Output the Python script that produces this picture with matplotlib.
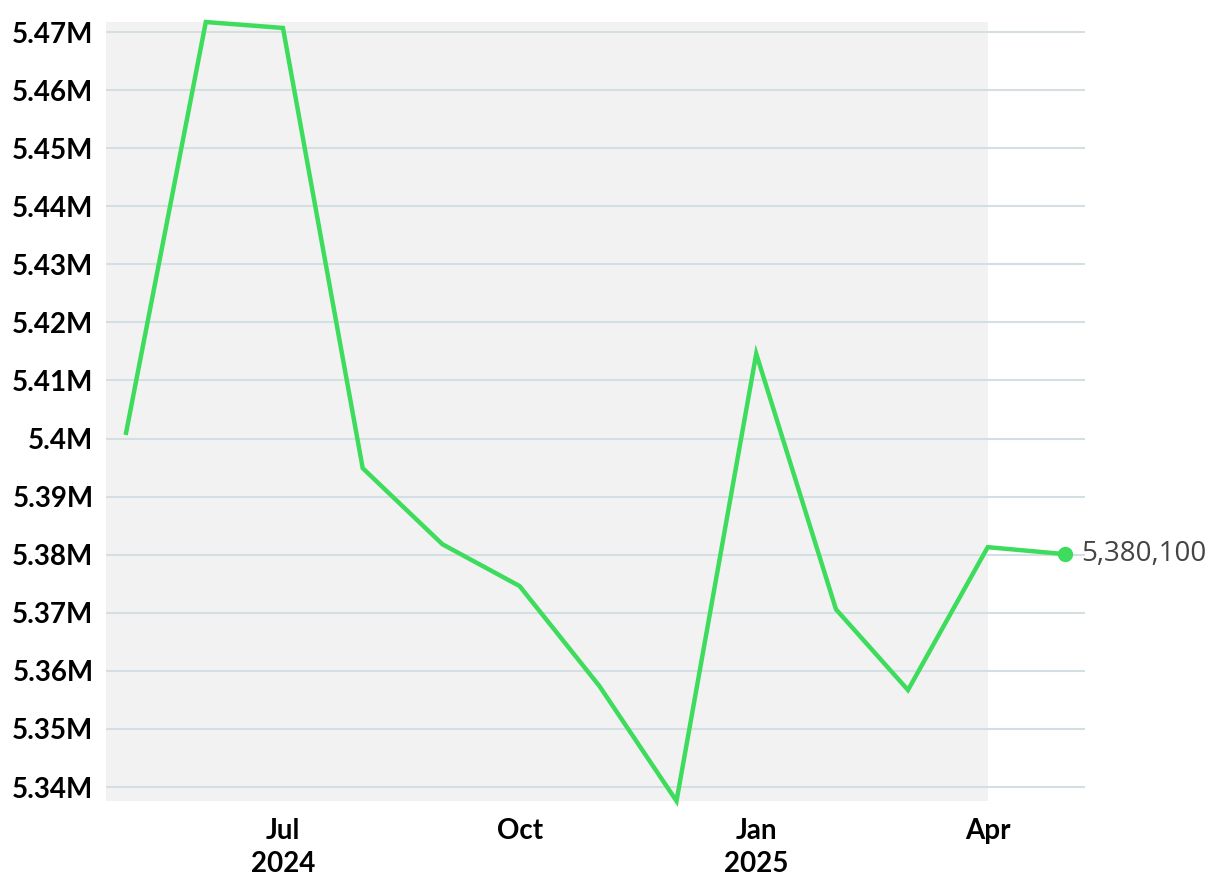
import matplotlib.pyplot as plt
import matplotlib.ticker as mticker
import pandas as pd

plt.rcParams['font.family'] = ['Lato', 'DejaVu Sans']

# Данные: ежемесячные значения
months = pd.date_range('2024-05-01', '2025-05-01', freq='MS')
values = [5401000, 5471720, 5470700, 5394900, 5381800, 5374600, 5357400,
          5337590, 5414600, 5370600, 5356700, 5381300, 5380100]
y_ticks = [5.34e6, 5.35e6, 5.36e6, 5.37e6, 5.38e6, 5.39e6, 5.40e6,
           5.41e6, 5.42e6, 5.43e6, 5.44e6, 5.45e6, 5.46e6, 5.47e6]
x_ticks = pd.to_datetime(['2024-07-01', '2024-10-01', '2025-01-01', '2025-04-01'])
x_tick_labels = ['Jul\n2024', 'Oct', 'Jan\n2025', 'Apr']
shade_end = pd.Timestamp('2025-04-01')

line_color = '#3ddc5c'
grid_color = '#d5dfe3'

fig = plt.figure(figsize=(12.2, 8.92), dpi=100)
ax = fig.add_axes([0.0869, 0.1020, 0.8024, 0.8733])

pad = pd.Timedelta(days=7.8)
x_left = months[0] - pad
x_right = months[-1] + pad
ax.set_xlim(x_left, x_right)
ax.set_ylim(min(values), max(values))

# Серый фон до апреля
ax.axvspan(x_left, shade_end, color='#f2f2f2', zorder=0, lw=0)

ax.plot(months, values, color=line_color, linewidth=3.2, zorder=3,
        solid_joinstyle='miter', clip_on=False)
ax.plot(months[-1], values[-1], 'o', color=line_color, markersize=10, zorder=4)
ax.annotate(f'{values[-1]:,}', (months[-1], values[-1]), xytext=(12, 0),
            textcoords='offset points', va='center', ha='left',
            fontsize=20, color='#444444', family=['Open Sans', 'DejaVu Sans'])

ax.set_yticks(y_ticks)
ax.yaxis.set_major_formatter(mticker.FuncFormatter(
    lambda v, p: f'{v / 1e6:.2f}'.rstrip('0').rstrip('.') + 'M'))
ax.set_xticks(x_ticks)
ax.set_xticklabels(x_tick_labels)

ax.grid(axis='y', color=grid_color, linewidth=1.5, zorder=1)
ax.grid(axis='x', visible=False)
ax.set_axisbelow(True)
for spine in ax.spines.values():
    spine.set_visible(False)

ax.tick_params(axis='both', length=0, labelsize=20)
ax.tick_params(axis='y', pad=9)
ax.tick_params(axis='x', pad=12)
for lbl in ax.get_xticklabels() + ax.get_yticklabels():
    lbl.set_fontweight('bold')
    lbl.set_linespacing(1.35)

fig.savefig('out.png', dpi=100)
